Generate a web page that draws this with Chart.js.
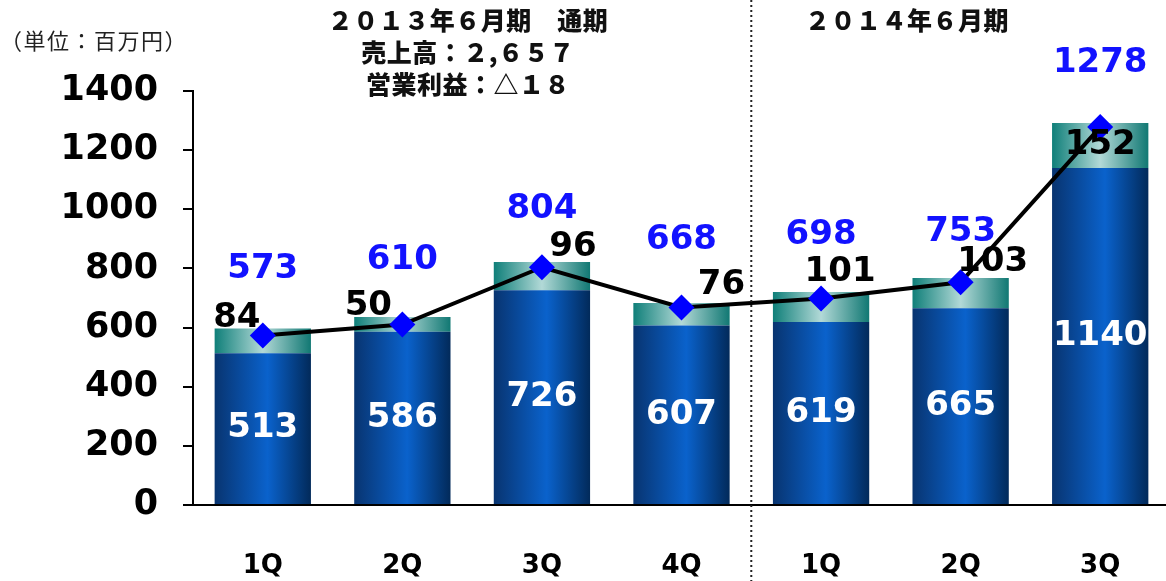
<!DOCTYPE html>
<html>
<head>
<meta charset="utf-8">
<script src="https://cdn.jsdelivr.net/npm/chart.js@4.4.0/dist/chart.umd.min.js"></script>
<style>
  html, body { margin: 0; padding: 0; background: #fff; overflow: hidden; width: 1166px; height: 581px; }
  #wrap { position: relative; width: 1183px; height: 581px; }
  #c { display: block; }
  .note {
    position: absolute; font-family: "Noto Sans CJK JP", sans-serif; font-weight: 900;
    font-size: 25px; letter-spacing: 0.5px; color: #111; text-align: center;
    line-height: 32px; white-space: nowrap;
  }
  #unit {
    position: absolute; left: 0px; top: 23px; font-family: "Noto Sans CJK JP", sans-serif;
    font-size: 22px; letter-spacing: 1.5px; color: #222; white-space: nowrap;
  }
</style>
</head>
<body>
<div id="wrap">
  <canvas id="c" width="1183" height="581" style="width:1183px;height:581px"></canvas>
  <div class="note" style="left:268px;top:3px;width:400px">２０１３年６月期　通期<br>売上高：２,６５７<br>営業利益：△１８</div>
  <div class="note" style="left:757px;top:3px;width:300px">２０１４年６月期</div>
  <div id="unit">（単位：百万円）</div>
</div>
<script>
(() => {
  // 四半期ラベルと値
  const quarters = ["1Q", "2Q", "3Q", "4Q", "1Q", "2Q", "3Q"];
  const baseValues = [513, 586, 726, 607, 619, 665, 1140];
  const topValues = [84, 50, 96, 76, 101, 103, 152];
  const lineValues = [573, 610, 804, 668, 698, 753, 1278];
  const yMax = 1400;
  const yStep = 200;

  // label offsets (px) — top labels relative to bar top, line labels relative to point
  const topLabelOffsets = [[-26, -10], [-34, -11], [31, -15], [40, -18], [19, -20], [32, -16], [0, 22]];
  const lineLabelDy = [-66, -64, -58, -67, -63, -50, -64];

  const barPct = 0.69;
  const numFont = '"DejaVu Sans", Verdana, sans-serif';

  function barGradient(stops) {
    return (c) => {
      const chart = c.chart;
      const xs = chart.scales.x;
      if (!xs || c.dataIndex === undefined) return stops[1][1];
      const cx = xs.getPixelForValue(c.dataIndex);
      const w = xs.width / quarters.length * barPct;
      if (!isFinite(cx) || !isFinite(w) || w <= 0) return stops[1][1];
      const g = chart.ctx.createLinearGradient(cx - w / 2, 0, cx + w / 2, 0);
      stops.forEach(s => g.addColorStop(s[0], s[1]));
      return g;
    };
  }

  const labelPlugin = {
    id: "valueLabels",
    afterDatasetsDraw(chart) {
      const ctx = chart.ctx;
      const base = chart.getDatasetMeta(1).data;
      const top = chart.getDatasetMeta(2).data;
      const pts = chart.getDatasetMeta(0).data;
      ctx.save();
      ctx.textAlign = "center";
      ctx.textBaseline = "middle";
      ctx.font = "bold 34px " + numFont;
      base.forEach((b, i) => {
        ctx.fillStyle = "#fff";
        ctx.fillText(baseValues[i], b.x, (b.y + b.base) / 2);
      });
      top.forEach((b, i) => {
        ctx.fillStyle = "#000";
        const o = topLabelOffsets[i];
        ctx.fillText(topValues[i], b.x + o[0], b.y + o[1]);
      });
      pts.forEach((p, i) => {
        ctx.fillStyle = "#1212ff";
        ctx.fillText(lineValues[i], p.x, p.y + lineLabelDy[i]);
      });
      ctx.restore();
    }
  };

  // 期の区切り（点線）
  const dividerPlugin = {
    id: "divider",
    afterDraw(chart) {
      const xs = chart.scales.x;
      const x = (xs.getPixelForValue(3) + xs.getPixelForValue(4)) / 2;
      const ctx = chart.ctx;
      ctx.save();
      ctx.strokeStyle = "#222";
      ctx.lineWidth = 2;
      ctx.setLineDash([2, 3]);
      ctx.beginPath();
      ctx.moveTo(x, 0);
      ctx.lineTo(x, chart.height);
      ctx.stroke();
      ctx.restore();
    }
  };

  new Chart(document.getElementById("c").getContext("2d"), {
    type: "bar",
    data: {
      labels: quarters,
      datasets: [
        {
          type: "line",
          data: lineValues,
          stack: "line",
          order: 0,
          borderColor: "#000",
          borderWidth: 4,
          tension: 0,
          pointStyle: "rectRot",
          pointRadius: 13,
          pointBackgroundColor: "#0000ff",
          pointBorderColor: "#0000ff",
          pointBorderWidth: 0
        },
        {
          data: baseValues,
          stack: "bars",
          order: 1,
          backgroundColor: barGradient([[0, "#083470"], [0.55, "#0a62cc"], [1, "#022a5a"]]),
          borderWidth: 0,
          categoryPercentage: 1,
          barPercentage: barPct
        },
        {
          data: topValues,
          stack: "bars",
          order: 1,
          backgroundColor: barGradient([[0, "#0f7f79"], [0.5, "#b2d9d7"], [1, "#117873"]]),
          borderWidth: 0,
          categoryPercentage: 1,
          barPercentage: barPct
        }
      ]
    },
    options: {
      responsive: false,
      animation: false,
      layout: { padding: { top: 91, right: 0, left: 0, bottom: 0 } },
      plugins: {
        legend: { display: false },
        tooltip: { enabled: false }
      },
      scales: {
        x: {
          stacked: true,
          grid: { display: false },
          border: { color: "#000", width: 2 },
          ticks: {
            color: "#000",
            padding: 38,
            font: { size: 26, weight: "bold", family: numFont }
          },
          afterFit: s => { s.height = 76; }
        },
        y: {
          stacked: true,
          min: 0,
          max: yMax,
          ticks: {
            stepSize: yStep,
            color: "#000",
            padding: 25,
            font: { size: 35, weight: "bold", family: numFont },
            callback: v => String(v)
          },
          grid: { drawOnChartArea: false, drawTicks: true, tickLength: 10, color: "#000", lineWidth: 2 },
          border: { color: "#000", width: 2 },
          afterFit: s => { s.width = 193; }
        }
      }
    },
    plugins: [labelPlugin, dividerPlugin]
  });
})();
</script>
</body>
</html>
